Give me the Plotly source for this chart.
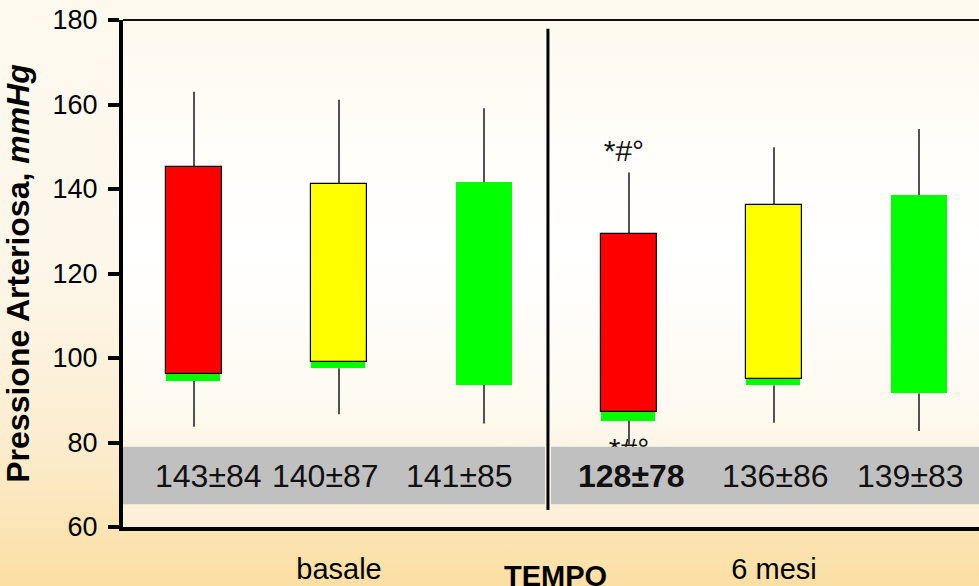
import base64
import plotly.graph_objects as go

# ---------------- data ----------------
groups = ["basale", "basale", "basale", "6 mesi", "6 mesi", "6 mesi"]
series = ["rosso", "giallo", "verde", "rosso", "giallo", "verde"]
box_top = [145.2, 141.2, 141.6, 129.3, 136.2, 138.6]
box_bottom = [96.3, 99.0, 93.6, 87.3, 95.0, 91.6]
band_bottom = [94.6, 97.6, None, 85.2, 93.5, None]
whisker_max = [163.0, 161.1, 159.1, 143.9, 149.9, 154.2]
whisker_min = [83.7, 86.7, 84.5, 79.5, 84.7, 82.7]
value_labels = ["143±84", "140±87", "141±85", "<b>128±78</b>", "136±86", "139±83"]
group_labels = ["basale", "6 mesi"]
y_ticks = [60, 80, 100, 120, 140, 160, 180]
sig_label = "*#°"

# ---------------- style ----------------
FONT = "Arial, 'Liberation Sans', sans-serif"
colors = {"rosso": "#FF0000", "giallo": "#FFFF00", "verde": "#00FF00"}
outline = {"rosso": "#000000", "giallo": "#000000", "verde": "#00FF00"}
outline_w = {"rosso": 1.2, "giallo": 1.2, "verde": 0}
box_w = 0.386
label_shift = [0.10, -0.09, -0.17, 0.02, 0.01, -0.06]
x_range = [-0.4897, 5.4138]
W, H = 979, 586
ML, MR, MT, MB = 123, 0, 20, 59
PW, PH = W - ML - MR, H - MT - MB

xs = list(range(len(groups)))

fig = go.Figure()

# whiskers
wx, wy = [], []
for i in xs:
    low_start = band_bottom[i] if band_bottom[i] is not None else box_bottom[i]
    wx += [i, i, None, i, i, None]
    wy += [box_top[i], whisker_max[i], None, low_start, whisker_min[i], None]
fig.add_trace(go.Scatter(x=wx, y=wy, mode="lines", line=dict(color="#1a1a1a", width=1.5),
                         hoverinfo="skip", showlegend=False))

# green bands under the boxes
bx = [i for i in xs if band_bottom[i] is not None]
fig.add_trace(go.Bar(x=bx, y=[box_bottom[i] - band_bottom[i] for i in bx],
                     base=[band_bottom[i] for i in bx], width=box_w * 0.965,
                     offset=-box_w / 2, marker=dict(color="#00FF00", line=dict(width=0)),
                     showlegend=False, hoverinfo="skip"))

# boxes
for s in ["rosso", "giallo", "verde"]:
    idx = [i for i in xs if series[i] == s]
    fig.add_trace(go.Bar(x=idx, y=[box_top[i] - box_bottom[i] for i in idx],
                         base=[box_bottom[i] for i in idx], width=box_w, name=s,
                         marker=dict(color=colors[s], line=dict(color=outline[s], width=outline_w[s])),
                         showlegend=False))

# significance marks (trace layer so the grey band can cover the lower one)
fig.add_trace(go.Scatter(x=[3 - 0.035, 3.0], y=[whisker_max[3] + 4.6, band_bottom[3] - 7.3],
                         mode="text", text=[sig_label, sig_label],
                         textfont=dict(family=FONT, size=30, color="#111111"),
                         textposition="middle center", showlegend=False, hoverinfo="skip"))

def grad_svg(stops):
    st = "".join(f"<stop offset='{o}' stop-color='{c}'/>" for o, c in stops)
    svg = ("<svg xmlns='http://www.w3.org/2000/svg' width='100' height='100' viewBox='0 0 100 100' "
           "preserveAspectRatio='none'><defs><linearGradient id='g' x1='0' y1='0' x2='0' y2='1'>"
           + st + "</linearGradient></defs><rect width='100' height='100' fill='url(#g)'/></svg>")
    return "data:image/svg+xml;base64," + base64.b64encode(svg.encode()).decode()

outer = grad_svg([(0, "#FDF9EF"), (0.45, "#FDF7EA"), (0.75, "#FCEDD0"), (1, "#FBDFA3")])
inner = grad_svg([(0, "#FEF9EF"), (0.2, "#FFFDF8"), (0.45, "#FFFFFF"), (0.75, "#FEFAF1"), (1, "#FCEFD6")])

images = [
    dict(source=outer, xref="paper", yref="paper", x=-ML / PW, y=1 + MT / PH,
         sizex=W / PW, sizey=H / PH, xanchor="left", yanchor="top", sizing="stretch", layer="below"),
    dict(source=inner, xref="paper", yref="paper", x=0, y=1 - 9 / PH,
         sizex=1, sizey=(PH - 9) / PH, xanchor="left", yanchor="top", sizing="stretch", layer="below"),
]

shapes = [
    dict(type="line", xref="paper", yref="paper", x0=0, x1=1, y0=1, y1=1,
         line=dict(color="#111111", width=2), layer="above"),
    dict(type="rect", xref="x", yref="y", x0=x_range[0], x1=2.421, y0=65.4, y1=79.0,
         fillcolor="#C0C0C0", line=dict(width=0), layer="above"),
    dict(type="rect", xref="x", yref="y", x0=2.462, x1=6.0, y0=65.4, y1=79.0,
         fillcolor="#C0C0C0", line=dict(width=0), layer="above"),
    dict(type="line", xref="x", yref="y", x0=2.441, x1=2.441, y0=64.0, y1=177.9,
         line=dict(color="#000000", width=3), layer="above"),
]

annotations = []
for i in xs:
    annotations.append(dict(x=i + label_shift[i], y=72.0, xref="x", yref="y", text=value_labels[i],
                            showarrow=False, font=dict(family=FONT, size=32, color="#111111"),
                            xanchor="center", yanchor="middle"))
annotations.append(dict(x=(555 - ML) / PW, y=-(576 - (H - MB)) / PH, xref="paper", yref="paper",
                        text="<b>TEMPO</b>", showarrow=False,
                        font=dict(family=FONT, size=29, color="#000000"),
                        xanchor="center", yanchor="middle"))

fig.update_layout(
    width=W, height=H,
    margin=dict(l=ML, r=MR, t=MT, b=MB, pad=0),
    paper_bgcolor="#FDF6E6", plot_bgcolor="rgba(0,0,0,0)",
    barmode="overlay", bargap=0,
    images=images, shapes=shapes, annotations=annotations,
    font=dict(family=FONT, color="#000000"),
    xaxis=dict(range=x_range, showline=True, linewidth=4, linecolor="#000000",
               tickvals=[1, 4], ticktext=group_labels, ticks="", showgrid=False, zeroline=False,
               tickfont=dict(family=FONT, size=29, color="#000000"), ticklabelstandoff=13,
               automargin=False, fixedrange=True),
    yaxis=dict(range=[60, 180], tickvals=y_ticks, ticks="outside", ticklen=11, tickwidth=4,
               tickcolor="#000000", showline=True, linewidth=4, linecolor="#000000",
               showgrid=False, zeroline=False, ticklabelstandoff=5,
               tickfont=dict(family=FONT, size=27, color="#000000"),
               title=dict(text="<b>Pressione Arteriosa, <i>mmHg</i></b>", standoff=17,
                          font=dict(family=FONT, size=32, color="#000000")),
               automargin=False, fixedrange=True),
)

fig.write_html("out.html", config={"displayModeBar": False},
               post_script="document.body.style.margin='0';document.body.style.overflow='hidden';")
